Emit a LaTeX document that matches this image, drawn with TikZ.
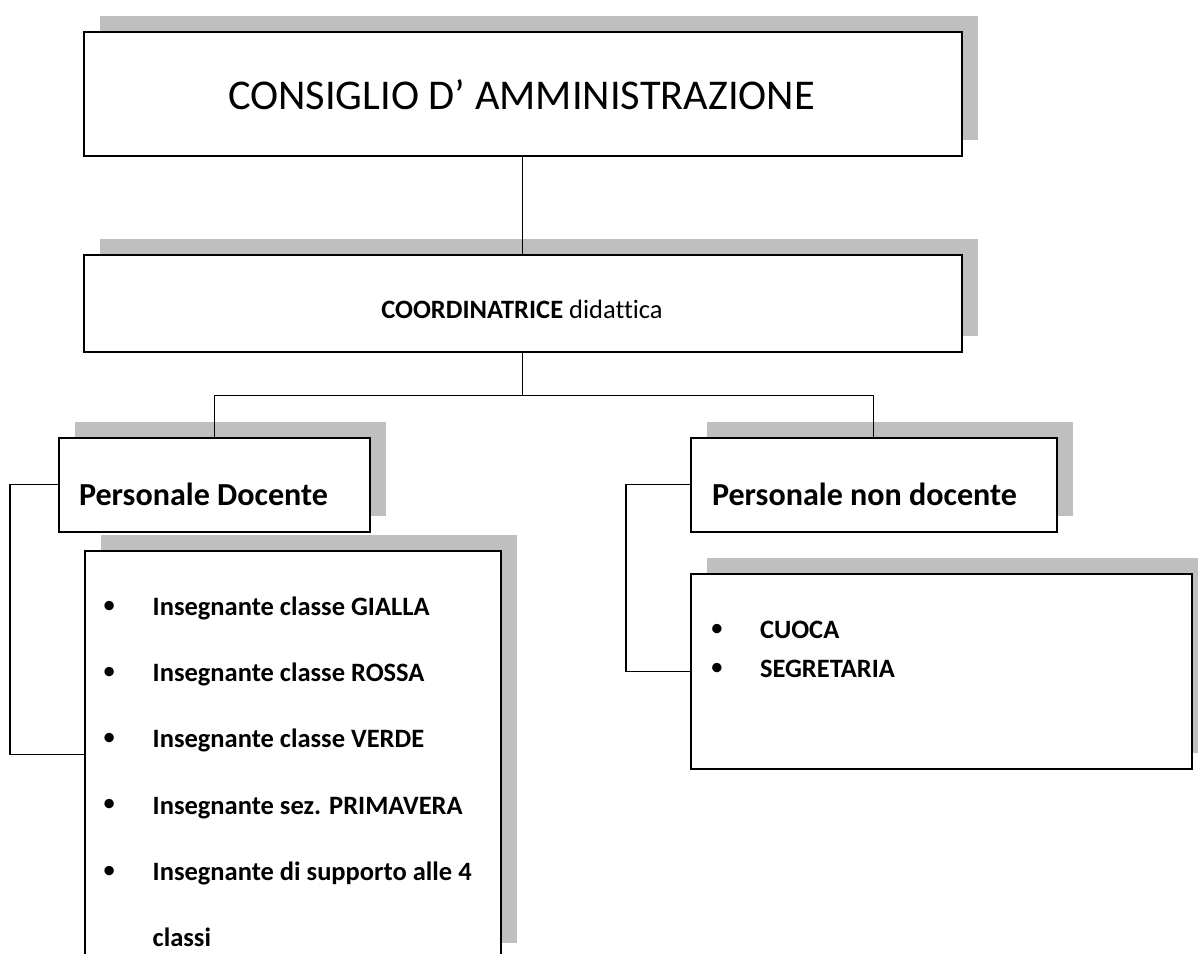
\documentclass[tikz,border=0pt]{standalone}
\usepackage{fontspec}
\setmainfont{Carlito}[Ligatures=NoCommon]
\usetikzlibrary{shadows}
\definecolor{shadowgray}{RGB}{191,191,191}
\begin{document}
\begin{tikzpicture}[x=1pt,y=-1pt,
  box/.style={draw, line width=1.5pt, fill=white, rectangle, inner sep=0pt, anchor=north west,
    general shadow={fill=shadowgray, draw=none, shadow xshift=16pt, shadow yshift=16pt}},
  conn/.style={draw, line width=1.4pt},
  txt/.style={inner sep=0pt, outer sep=0pt},
  bigfont/.style={font=\fontsize{42.4}{50}\selectfont},
  midfont/.style={font=\fontsize{26.5}{32}\selectfont},
  headfont/.style={font=\bfseries\fontsize{32.1}{38}\selectfont},
  itemfont/.style={font=\bfseries\fontsize{26.5}{32}\selectfont},
  bulletfont/.style={font=\fontsize{26.5}{32}\selectfont},
]
\useasboundingbox (0,0) rectangle (1198,953);
\clip (0,0) rectangle (1198,953);
\fill[white] (0,0) rectangle (1198,953);

% boxes
\node[box, minimum width=878pt, minimum height=124pt] (cda) at (83,31) {};
\node[box, minimum width=878pt, minimum height=97pt] (coord) at (83,254) {};
\node[box, minimum width=311pt, minimum height=94pt] (pd) at (58,437) {};
\node[box, minimum width=416pt, minimum height=408pt] (pdl) at (84,550) {};
\node[box, minimum width=366pt, minimum height=94pt] (pnd) at (690,437) {};
\node[box, minimum width=501pt, minimum height=195pt] (pndl) at (690,573) {};

% connectors
\draw[conn] (cda.south) -- (coord.north);
\draw[conn] (coord.south) -- ++(0,43) coordinate (split) -| (pd.north);
\draw[conn] (split) -| (pnd.north);
\draw[conn] (pd.west) -- ++(-48,0) |- (pdl.west);
\draw[conn] (pnd.west) -- ++(-64,0) |- (pndl.west);

% texts
\node[txt, bigfont, anchor=base] (tcda) at (521.5,109) {CONSIGLIO D’ AMMINISTRAZIONE};
\node[txt, midfont, anchor=base] (tcoord) at (522,318) {\textbf{COORDINATRICE} didattica};
\node[txt, headfont, anchor=base west] (tpd) at (79,505) {Personale Docente};
\node[txt, headfont, anchor=base west] (tpnd) at (712,505) {Personale non docente};

% list 1
\foreach \by/\bl/\t [count=\i] in {607.3/615.7/Insegnante classe GIALLA,
                                   673.3/681.7/Insegnante classe ROSSA,
                                   739.3/747.7/Insegnante classe VERDE,
                                   805.7/814/Insegnante sez. PRIMAVERA,
                                   872.3/880.7/Insegnante di supporto alle 4}{
  \node[txt, bulletfont, anchor=center] (ba\i) at (109.3,\by) {•};
  \node[txt, itemfont, anchor=base west] (ia\i) at (152.7,\bl) {\t};
}
\node[txt, itemfont, anchor=base west] (ia6) at (152.7,946.7) {classi};

% list 2
\node[txt, bulletfont, anchor=center] (bb1) at (717,630) {•};
\node[txt, itemfont, anchor=base west] (ib1) at (760,638.3) {CUOCA};
\node[txt, bulletfont, anchor=center] (bb2) at (717,669.3) {•};
\node[txt, itemfont, anchor=base west] (ib2) at (760,677.3) {SEGRETARIA};
\end{tikzpicture}
\end{document}
